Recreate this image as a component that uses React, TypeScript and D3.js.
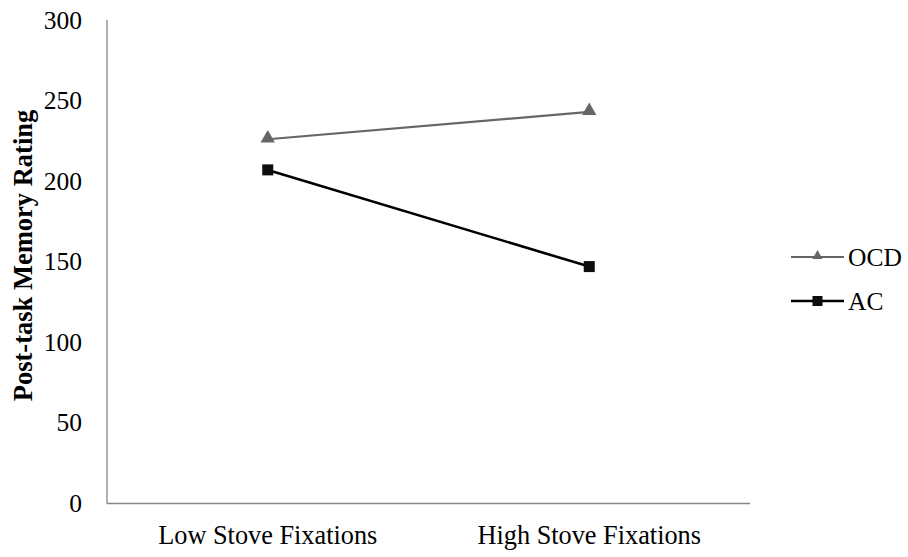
import React from "react";
import * as d3 from "d3";

const categories = ["Low Stove Fixations", "High Stove Fixations"];
const ocdValues = [226, 243];
const acValues = [207, 147];
const yTicks = [0, 50, 100, 150, 200, 250, 300];

const W = 908;
const H = 557;
const left = 107;
const right = 750;
const top = 20;
const bottom = 503.5;
const font = "Liberation Serif, Times New Roman, serif";
const fs = 25.5;

export default function App() {
  const x = d3.scaleBand<string>().domain(categories).range([left, right]);
  const y = d3.scaleLinear().domain([0, 300]).range([bottom, top]);
  const cx = (c: string) => (x(c) as number) + x.bandwidth() / 2;
  const line = d3
    .line<number>()
    .x((_, i) => cx(categories[i]))
    .y((d) => y(d));
  const tri = d3.symbol().type(d3.symbolTriangle).size(90)() as string;
  const triSmall = d3.symbol().type(d3.symbolTriangle).size(45)() as string;
  const sq = 11;
  const sqS = 10;
  return (
    <svg width={W} height={H} style={{ position: "absolute", left: 0, top: 0 }}>
      <rect width={W} height={H} fill="#fff" />
      <line x1={left} x2={left} y1={top} y2={bottom} stroke="#868686" strokeWidth={1.3} />
      <line x1={left} x2={right} y1={bottom} y2={bottom} stroke="#868686" strokeWidth={1.3} />
      {yTicks.map((t) => (
        <text key={t} x={82} y={y(t) + 8.5} textAnchor="end" fontFamily={font} fontSize={fs} fill="#000">
          {t}
        </text>
      ))}
      {categories.map((c) => (
        <text key={c} x={cx(c)} y={544} textAnchor="middle" fontFamily={font} fontSize={26.3} fill="#000">
          {c}
        </text>
      ))}
      <text
        transform={`translate(32,255.5) rotate(-90)`}
        textAnchor="middle"
        fontFamily={font}
        fontSize={26.5}
        fontWeight="bold"
        fill="#000"
      >
        Post-task Memory Rating
      </text>
      <path d={line(ocdValues) as string} fill="none" stroke="#666666" strokeWidth={2.2} />
      <path d={line(acValues) as string} fill="none" stroke="#000" strokeWidth={2.6} />
      {ocdValues.map((v, i) => (
        <path key={i} d={tri} transform={`translate(${cx(categories[i])},${y(v) - 1})`} fill="#666666" />
      ))}
      {acValues.map((v, i) => (
        <rect key={i} x={cx(categories[i]) - sq / 2} y={y(v) - sq / 2} width={sq} height={sq} fill="#0d0d0d" />
      ))}
      <line x1={791} x2={844} y1={257} y2={257} stroke="#666666" strokeWidth={2.2} />
      <path d={triSmall} transform="translate(817.5,256)" fill="#666666" />
      <text x={848} y={265.5} fontFamily={font} fontSize={fs} fill="#000">OCD</text>
      <line x1={791} x2={844} y1={301} y2={301} stroke="#000" strokeWidth={2.6} />
      <rect x={817.5 - sqS / 2} y={301 - sqS / 2} width={sqS} height={sqS} fill="#0d0d0d" />
      <text x={848} y={309.5} fontFamily={font} fontSize={fs} fill="#000">AC</text>
    </svg>
  );
}
